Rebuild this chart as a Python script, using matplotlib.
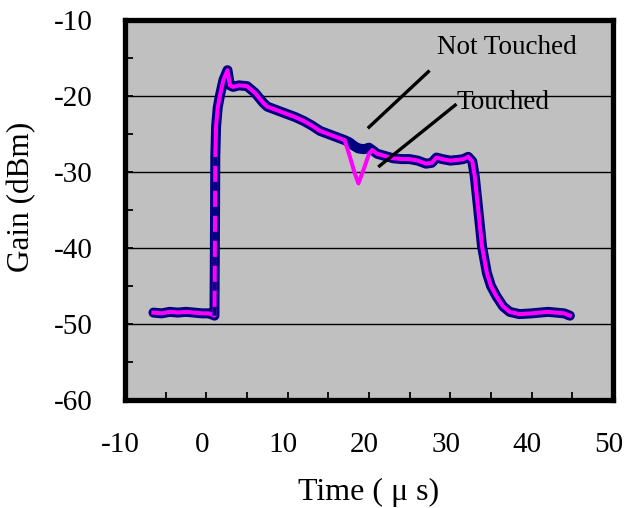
import matplotlib.pyplot as plt
from matplotlib.ticker import MultipleLocator
from matplotlib.transforms import ScaledTranslation

# values
time_us = [-6.5, -5.5, -4.5, -3.5, -2.5, -1.5, -0.5, 0.3, 0.8, 1.0,
           1.05, 1.1, 1.2, 1.4, 1.7, 2.1, 2.6, 2.9, 3.3, 4.0,
           5.0, 6.0, 7.0, 7.5, 8.5, 10.0, 11.0, 12.0, 13.0, 14.0,
           15.0, 16.0, 17.0, 17.6, 18.2, 18.7, 19.4, 20.0, 20.4, 21.0,
           22.0, 23.0, 24.0, 25.0, 26.0, 27.0, 27.7, 28.3, 29.0, 30.0,
           31.0, 31.6, 32.2, 32.7, 33.0, 33.4, 33.9, 34.5, 35.0, 35.7,
           36.5, 37.3, 38.5, 40.0, 41.0, 42.0, 43.0, 44.0, 44.7]

not_touched = [-48.5, -48.6, -48.4, -48.5, -48.4, -48.5, -48.6, -48.6, -48.8, -48.9,
               -40.0, -28.0, -24.0, -21.5, -19.8, -17.9, -16.6, -18.6, -18.8, -18.6,
               -18.7, -19.6, -20.9, -21.4, -21.8, -22.4, -22.8, -23.3, -23.9, -24.6,
               -25.0, -25.4, -25.8, -26.1, -26.6, -26.9, -27.0, -26.8, -27.1, -27.6,
               -27.9, -28.2, -28.3, -28.3, -28.5, -28.9, -28.8, -28.1, -28.3, -28.5,
               -28.4, -28.3, -28.0, -28.6, -30.5, -34.6, -39.8, -43.3, -45.0, -46.4,
               -47.7, -48.4, -48.7, -48.6, -48.5, -48.4, -48.5, -48.6, -48.9]

touched = [-48.5, -48.6, -48.4, -48.5, -48.4, -48.5, -48.6, -48.6, -48.8, -48.9,
           -40.0, -28.0, -24.0, -21.5, -19.8, -17.9, -16.6, -18.6, -18.8, -18.6,
           -18.7, -19.6, -20.9, -21.4, -21.8, -22.4, -22.8, -23.3, -23.9, -24.6,
           -25.0, -25.4, -25.8, -27.8, -30.0, -31.5, -29.5, -27.6, -27.1, -27.6,
           -27.9, -28.2, -28.3, -28.3, -28.5, -28.9, -28.8, -28.1, -28.3, -28.5,
           -28.4, -28.3, -28.0, -28.6, -30.5, -34.6, -39.8, -43.3, -45.0, -46.4,
           -47.7, -48.4, -48.7, -48.6, -48.5, -48.4, -48.5, -48.6, -48.9]

x_ticks = [-10, 0, 10, 20, 30, 40, 50]
y_ticks = [-60, -50, -40, -30, -20, -10]

plt.rcParams['font.family'] = ['Liberation Serif', 'DejaVu Serif']
plt.rcParams['axes.unicode_minus'] = False

fig = plt.figure(figsize=(6.26, 5.08), dpi=100)
ax = fig.add_axes([0.1997, 0.2126, 0.7795, 0.748])
ax.set_facecolor('#c0c0c0')

ax.plot(time_us, not_touched, color='#000080', lw=7.2, solid_capstyle='round',
        solid_joinstyle='round', zorder=3)
ax.plot(time_us, touched, color='#ff00ff', lw=2.9, solid_joinstyle='round', zorder=4)
# navy shows through the magenta on the steep rising edge
ax.plot(time_us[9:12], touched[9:12], color='#000080', lw=2.9,
        dashes=(2.2, 4.0), dash_capstyle='butt', zorder=5)

# leader lines and labels
ax.plot([27.3, 20.0], [-16.8, -24.1], color='black', lw=2.4, zorder=6)
ax.plot([30.6, 21.3], [-21.2, -29.2], color='black', lw=2.4, zorder=6)
ax.text(28.4, -13.6, 'Not Touched', va='center', ha='left', fontsize=19.5, zorder=7)
ax.text(30.8, -20.9, 'Touched', va='center', ha='left', fontsize=19.5, zorder=7)

ax.set_xlim(-10, 50)
ax.set_ylim(-60, -10)
ax.set_xticks(x_ticks)
ax.set_yticks(y_ticks)
ax.xaxis.set_minor_locator(MultipleLocator(5))
ax.yaxis.set_minor_locator(MultipleLocator(5))
ax.tick_params(which='both', direction='in', length=6, width=1.3, color='black')
ax.tick_params(which='major', pad=23, labelsize=21)
ax.tick_params(axis='x', which='both', top=False)
ax.tick_params(axis='y', which='both', right=False)
ax.grid(axis='y', which='major', color='black', lw=1.0)
ax.set_axisbelow(True)

# x tick labels sit a little left of their ticks in the original
shift = ScaledTranslation(-0.045, 0, fig.dpi_scale_trans)
for lab in ax.get_xticklabels():
    lab.set_transform(lab.get_transform() + shift)

for sp in ax.spines.values():
    sp.set_linewidth(3.8)
    sp.set_zorder(8)

ax.set_xlabel('Time ( μ s)', fontsize=23, va='center')
ax.set_ylabel('Gain (dBm)', fontsize=22.5, va='center')
ax.xaxis.set_label_coords(0.5, -0.242)
ax.yaxis.set_label_coords(-0.211, 0.534)

fig.savefig('out.png', dpi=100)
